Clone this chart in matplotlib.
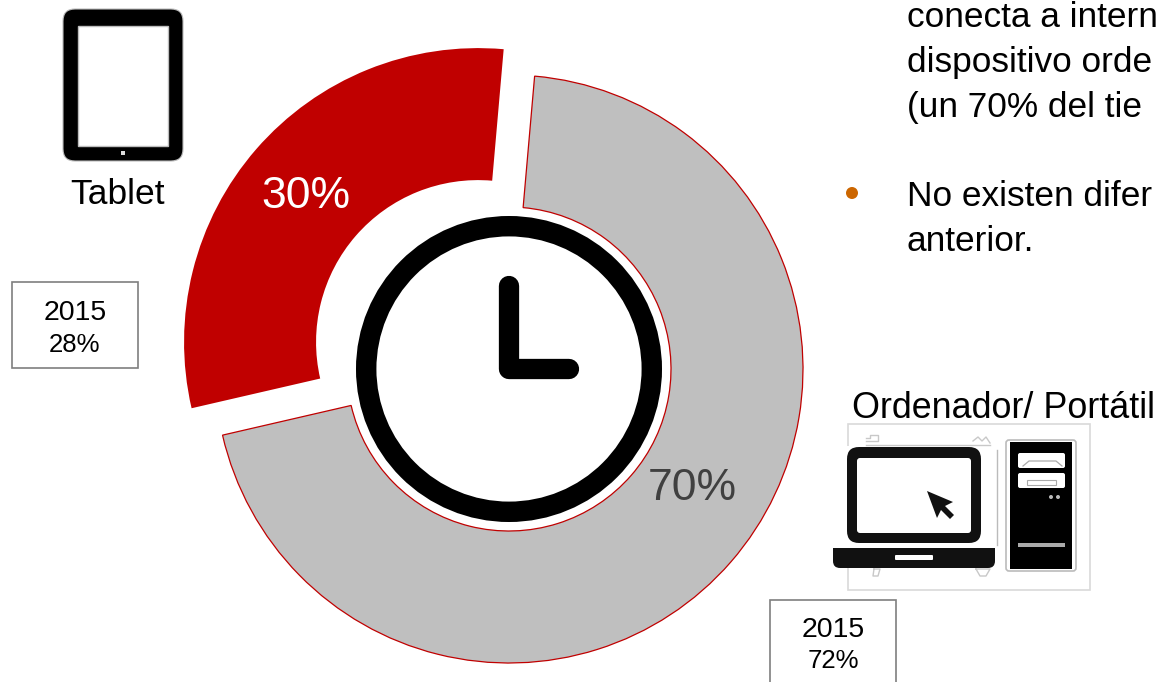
import matplotlib
matplotlib.use("Agg")
import matplotlib.pyplot as plt
from matplotlib.patches import Circle, FancyBboxPatch, Polygon, Rectangle

plt.rcParams['font.family'] = ['Liberation Sans', 'DejaVu Sans']

# ---- data ----
devices = ["Ordenador/ Portátil", "Tablet"]
shares_2016 = [70, 30]
shares_2015 = [72, 28]
year_prior = "2015"
wedge_colors = ["#BFBFBF", "#C00000"]
label_colors = ["#404040", "#FFFFFF"]
explode = [0, 41]
body_lines = ["conecta a intern", "dispositivo orde", "(un 70% del tie"]
bullet_lines = ["No existen difer", "anterior."]

W, H = 1159, 682
fig = plt.figure(figsize=(W / 100, H / 100), dpi=100)
ax = fig.add_axes([0, 0, 1, 1])


def Y(y):
    return H - y


def rrect(x0, y0, x1, y1, r, fc, ec="none", lw=0, z=5):
    ax.add_patch(FancyBboxPatch((x0, Y(y1)), x1 - x0, y1 - y0,
                                boxstyle=f"round,pad=0,rounding_size={r}",
                                fc=fc, ec=ec, lw=lw, zorder=z))


def rect(x0, y0, x1, y1, fc="none", ec="none", lw=0, z=5):
    ax.add_patch(Rectangle((x0, Y(y1)), x1 - x0, y1 - y0, fc=fc, ec=ec, lw=lw, zorder=z))


def base_text(x, y, s, pt, color="black", ha="left"):
    ax.text(x, Y(y), s, fontsize=pt, color=color, ha=ha, va="baseline", zorder=8)


def scrap(xs, ys, color="#C8C8C8", lw=1.0, z=3):
    ax.plot(xs, [Y(v) for v in ys], color=color, lw=lw, zorder=z)


# ---- donut ----
wedges, _ = ax.pie(shares_2016, colors=wedge_colors, explode=explode,
                   center=(509, Y(369)), radius=294, startangle=85,
                   counterclock=False,
                   wedgeprops=dict(width=132, edgecolor="#C00000", linewidth=0.9))
wedges[1].set_edgecolor("none")
ax.set_xlim(0, W)
ax.set_ylim(0, H)
ax.set_aspect("equal")
ax.axis("off")

base_text(306, 208, f"{shares_2016[1]}%", 32, label_colors[1], "center")
base_text(692, 500, f"{shares_2016[0]}%", 32, label_colors[0], "center")

# ---- clock ----
ax.add_patch(Circle((509, Y(369)), 142.8, fc="white", ec="black", lw=14.7, zorder=5))
ax.plot([508.5, 508.5, 569], [Y(286), Y(368.5), Y(368.5)], color="black", lw=14.6,
        solid_capstyle="round", solid_joinstyle="round", zorder=6)

# ---- tablet ----
rrect(63, 9, 183, 161, 12, "black", ec="#BBBBBB", lw=0.8)
rect(78, 26, 168, 146, fc="white", ec="#BDBDBD", lw=1.0, z=6)
rect(121, 151, 125, 155, fc="#DDDDDD", z=6)
base_text(118, 204, devices[1], 25.5, "black", "center")

# ---- previous year boxes ----
for (x0, y0, x1, y1), pct, by1, by2 in [((12, 282, 138, 368), shares_2015[1], 320, 352),
                                        ((770, 600, 896, 690), shares_2015[0], 637, 668)]:
    rect(x0, y0, x1, y1, fc="white", ec="#7F7F7F", lw=1.2, z=7)
    base_text((x0 + x1) / 2, by1, year_prior, 20.5, "black", "center")
    base_text((x0 + x1) / 2, by2, f"{pct}%", 18.5, "black", "center")

# ---- text block ----
for s, y in zip(body_lines, [27, 72, 117]):
    base_text(907, y, s, 25.4)
ax.add_patch(Circle((852, Y(193)), 6, fc="#CC6600", ec="none", zorder=6))
for s, y in zip(bullet_lines, [206, 251]):
    base_text(907, y, s, 25.4)

# ---- computers ----
base_text(852, 418, devices[0], 25.8)
rect(848, 424, 1090, 590, fc="white", ec="#D9D9D9", lw=1.2, z=2)
rect(833, 446, 995, 568, fc="white", z=3)
scrap([997, 997], [450, 545], "#BBBBBB")
scrap([866, 990], [445, 445])
scrap([866, 878, 878, 870, 870, 866], [441, 441, 435, 435, 438, 438])
scrap([973, 978, 982, 986, 990], [441, 437, 441, 437, 443])
scrap([874, 880, 878, 873, 874], [569, 569, 576, 576, 569])
scrap([976, 990, 986, 980, 976], [569, 569, 576, 576, 569])
rrect(847, 447, 981, 543, 12, "#111111")
rrect(857, 458, 971, 533, 3, "white", z=6)
rrect(833, 548, 995, 568, 7, "#111111")
rect(833, 548, 995, 556, fc="#111111")
rrect(895, 555, 933, 560, 1, "white", z=6)
ax.add_patch(Polygon([(927, Y(491)), (953, Y(502)), (945, Y(506)), (954, Y(515)),
                      (950, Y(519)), (941, Y(510)), (937, Y(518))],
                     closed=True, fc="#111111", ec="none", zorder=7))
rrect(1006, 440, 1076, 571, 3, "white", ec="#BBBBBB", lw=1.2, z=4)
rect(1010, 442, 1072, 569, fc="black")
for y0, y1 in [(453, 468), (473, 488)]:
    rrect(1018, y0, 1065, y1, 2, "white", z=6)
scrap([1023, 1029, 1056, 1062], [466, 461, 461, 466], "#AAAAAA", 0.9, 7)
rect(1027, 480, 1056, 485, fc="white", ec="#AAAAAA", lw=0.8, z=7)
for x in (1051, 1058):
    ax.add_patch(Circle((x, Y(497)), 2, fc="#BBBBBB", ec="none", zorder=6))
rect(1018, 543, 1065, 547, fc="#AAAAAA", z=6)

fig.savefig("out.png", dpi=100, facecolor="white")
